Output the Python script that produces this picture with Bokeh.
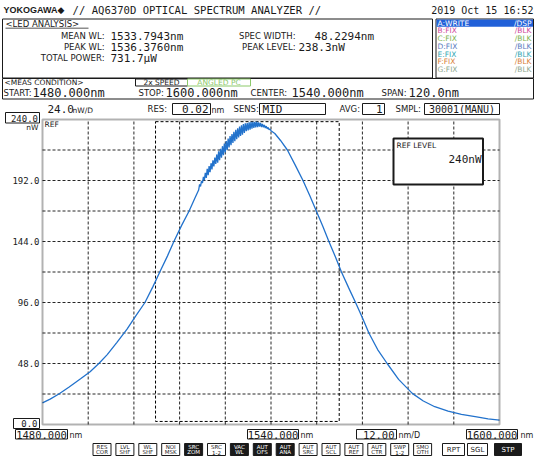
from bokeh.plotting import figure
from bokeh.models import Label, BoxAnnotation, Range1d
from bokeh.embed import file_html
from bokeh.resources import INLINE

wavelength_nm = [
    1480.0, 1482.0, 1484.3, 1487.0, 1490.0, 1492.5, 1494.8, 1497.0, 1499.5, 1502.2,
    1504.5, 1506.9, 1509.0, 1510.8, 1512.8, 1514.5, 1516.5, 1518.5, 1520.0,
    1521.00, 1521.25, 1521.50, 1521.75, 1522.00, 1522.25, 1522.50, 1522.75,
    1523.00, 1523.25, 1523.50, 1523.75, 1524.00, 1524.25, 1524.50, 1524.75,
    1525.00, 1525.25, 1525.50, 1525.75, 1526.00, 1526.25, 1526.50, 1526.75,
    1527.00, 1527.25, 1527.50, 1527.75, 1528.00, 1528.25, 1528.50, 1528.75,
    1529.00, 1529.25, 1529.50, 1529.75, 1530.00, 1530.25, 1530.50, 1530.75,
    1531.00, 1531.25, 1531.50, 1531.75, 1532.00, 1532.25, 1532.50, 1532.75,
    1533.00, 1533.25, 1533.50, 1533.75, 1534.00, 1534.25, 1534.50, 1534.75,
    1535.00, 1535.25, 1535.50, 1535.75, 1536.00, 1536.25, 1536.50, 1536.75,
    1537.00, 1537.25, 1537.50, 1537.75, 1538.00, 1538.25, 1538.50, 1538.75,
    1539.00, 1539.25, 1539.50, 1539.75, 1540.00,
    1541.0, 1542.5, 1544.3, 1546.3, 1548.4, 1550.2, 1551.9, 1553.6, 1555.2, 1556.9,
    1558.5, 1560.4, 1562.2, 1564.0, 1565.7, 1568.0, 1570.5, 1573.5, 1577.1, 1580.0,
    1583.0, 1586.5, 1590.0, 1594.0, 1597.0, 1600.0,
]
power_nw = [
    17.0, 20.0, 24.0, 29.5, 36.0, 41.5, 48.0, 55.0, 64.5, 75.0,
    85.5, 96.0, 108.5, 120.0, 132.5, 144.0, 156.5, 168.0, 178.0,
    184.5, 188.9, 187.3, 191.6, 190.0, 194.9, 192.3, 198.1,
    194.0, 201.1, 196.2, 203.4, 198.5, 205.6, 200.7, 207.9,
    203.0, 210.0, 205.0, 212.5, 206.0, 215.0, 208.0, 217.0,
    210.0, 219.0, 212.0, 221.0, 214.0, 223.0, 216.0, 225.0,
    218.0, 226.9, 219.8, 228.6, 221.5, 230.3, 223.0, 231.8,
    224.5, 233.1, 225.8, 234.4, 227.0, 235.5, 228.0, 236.5,
    229.5, 236.9, 230.8, 237.1, 231.5, 237.8, 232.0, 238.1,
    232.7, 238.2, 233.3, 238.2, 233.8, 238.3, 234.0, 237.8,
    234.4, 237.3, 234.1, 236.6, 233.8, 235.7, 233.3, 234.8,
    232.7, 233.7, 231.9, 232.5, 231.1,
    229.0, 223.5, 216.0, 204.5, 192.0, 180.0, 168.0, 156.0, 144.0, 132.0,
    120.0, 107.5, 96.0, 84.0, 72.0, 59.0, 48.0, 35.5, 24.5, 18.5,
    14.0, 10.5, 8.0, 6.0, 4.5, 3.5,
]
x_grid_nm = [1492, 1504, 1516, 1528, 1540, 1552, 1564, 1576, 1588]
y_grid_nw = [24, 48, 72, 96, 120, 144, 168, 192, 216]
y_tick_nw = [48, 96, 144, 192]
x_start_nm, x_center_nm, x_stop_nm = 1480.0, 1540.0, 1600.0
span_nm = 120.0
x_div_nm = 12.0
y_bottom_nw, y_ref_nw = 0.0, 240.0
y_div_nw = 24.0
mean_wl_nm = 1533.7943
peak_wl_nm = 1536.3760
spec_width_nm = 48.2294
peak_level_nw = 238.3
window_floor_nw = 2.4
total_power_uw = 731.7
trace_names = ["A:WRITE", "B:FIX", "C:FIX", "D:FIX", "E:FIX", "F:FIX", "G:FIX"]
trace_modes = ["/DSP", "/BLK", "/BLK", "/BLK", "/BLK", "/BLK", "/BLK"]
trace_colors = ["#ffffff", "#d04a9c", "#7db350", "#5b7cc0", "#35a8b4", "#d9823a", "#8fa890"]
button_top = ["RES", "LVL", "WL", "NOI", "SRC", "SRC", "VAC", "AUT", "AUT", "AUT", "AUT", "AUT", "AUT", "SWP", "SMO"]
button_bottom = ["COR", "SHF", "SHF", "MSK", "ZOM", "1-2", "WL", "OFS", "ANA", "SRC", "SCL", "REF", "CTR", "1-2", "OTH"]
button_on = [False, False, False, False, True, False, True, True, True, False, False, False, False, False, False]

# ---------------- geometry: the whole canvas is the frame ----------------
W, H = 534, 458
FX0, FX1, FY0, FY1 = 42, 499, 119, 424   # where the trace area sits on the screen (px)


def X(px):
    return x_start_nm + (px - FX0) * (x_stop_nm - x_start_nm) / (FX1 - FX0)


def Y(py):
    return y_ref_nw - (py - FY0) * (y_ref_nw - y_bottom_nw) / (FY1 - FY0)


p = figure(width=W, height=H,
           x_range=Range1d(X(0), X(W)), y_range=Range1d(Y(H), Y(0)),
           output_backend="svg", toolbar_location=None,
           min_border_left=0, min_border_right=0, min_border_top=0, min_border_bottom=0,
           background_fill_color="white", border_fill_color="white")
p.outline_line_color = None
p.axis.visible = False
p.grid.visible = False

SANS = "DejaVu Sans"
MONO = "DejaVu Sans Mono"
INK = "#1a1a1a"
SMALL = 8.5

# dashed graticule
n_x, n_y = len(x_grid_nm), len(y_grid_nw)
p.segment(x0=x_grid_nm, x1=x_grid_nm, y0=[y_bottom_nw] * n_x, y1=[y_ref_nw] * n_x,
          line_color="black", line_dash="3 2", line_width=1, line_alpha=0.85)
p.segment(x0=[x_start_nm] * n_y, x1=[x_stop_nm] * n_y, y0=y_grid_nw, y1=y_grid_nw,
          line_color="black", line_dash="3 2", line_width=1, line_alpha=0.85)

# analysis window (mean +/- spec width / 2)
p.quad(left=[mean_wl_nm - spec_width_nm / 2], right=[mean_wl_nm + spec_width_nm / 2],
       bottom=[window_floor_nw], top=[peak_level_nw],
       fill_alpha=0, line_color="black", line_dash="3 2", line_width=1)

# spectrum trace
p.line(wavelength_nm, power_nw, line_color="#2272cc", line_width=1.3)

# trace-area border
p.add_layout(BoxAnnotation(left=x_start_nm, right=x_stop_nm, bottom=y_bottom_nw, top=y_ref_nw,
                           line_color="black", line_width=2, fill_alpha=0.0))


def txt(px, py, s, size=SMALL, font=SANS, color=INK, align="left", style="normal"):
    p.add_layout(Label(x=X(px), y=Y(py), text=s, text_font=font,
                       text_font_size=f"{size}px", text_color=color,
                       text_align=align, text_baseline="middle",
                       text_font_style=style))


def rect(x0, y0, x1, y1, line=INK, fill=None, lw=1.0):
    p.add_layout(BoxAnnotation(left=X(x0), right=X(x1), top=Y(y0), bottom=Y(y1),
                               line_color=line, line_width=lw, line_alpha=1.0,
                               fill_color=fill if fill else "white",
                               fill_alpha=1.0 if fill else 0.0))


# level tick labels
for v in y_tick_nw:
    p.add_layout(Label(x=X(39), y=v, text=f"{v:.1f}", text_font=MONO, text_font_size="9px",
                       text_color=INK, text_align="right", text_baseline="middle"))

# title row
txt(3, 9.5, "YOKOGAWA", 9, "Liberation Sans", style="bold")
txt(57, 9.5, "\u25c6", 9)
txt(72, 9.5, "// AQ6370D OPTICAL SPECTRUM ANALYZER //", 10.6, MONO)
txt(533, 9.5, "2019 Oct 15 16:52", 10, MONO, align="right")

# LED analysis block
rect(2, 18.5, 432, 77.5)
txt(5, 23, "<LED ANALYSIS>")
rect(5, 27.3, 88, 28.1, line=None, fill=INK)
txt(104, 35.5, "MEAN WL:", align="right")
txt(110, 35.5, f"{mean_wl_nm:.4f}nm", 11, MONO)
txt(104, 46.5, "PEAK WL:", align="right")
txt(110, 46.5, f"{peak_wl_nm:.4f}nm", 11, MONO)
txt(104, 57.5, "TOTAL POWER:", align="right")
txt(110, 57.5, f"{total_power_uw:.1f}\u03bcW", 11, MONO)
txt(295, 35.5, "SPEC WIDTH:", align="right")
txt(314, 35.5, f"{spec_width_nm:.4f}nm", 11, MONO)
txt(295, 46.5, "PEAK LEVEL:", align="right")
txt(298, 46.5, f"{peak_level_nw:.1f}nW", 11, MONO)

# trace list
rect(435.5, 18.5, 533, 77.5)
rect(436, 19, 532.5, 26.2, line=None, fill="#2160d8")
for i, (nm, md, col) in enumerate(zip(trace_names, trace_modes, trace_colors)):
    yc = 22.6 + 7.75 * i
    txt(437, yc, nm, 7.5, color=col)
    txt(531, yc, md, 7.5, color=col, align="right")

# measurement condition block
rect(2, 78, 533, 98.5)
txt(4, 81.8, "<MEAS CONDITION>", 7.5)
rect(135, 78.5, 187, 85.5)
txt(161, 82, "2x SPEED", 7.5, align="center")
rect(187, 78.5, 250, 85.5, line="#8cc96b")
txt(218.5, 82, "ANGLED PC", 7.5, color="#8cc96b", align="center")
txt(3, 92, "START:")
txt(32, 92, f"{x_start_nm:.3f}nm", 12, MONO)
txt(138, 92, "STOP:")
txt(165, 92, f"{x_stop_nm:.3f}nm", 12, MONO)
txt(250, 92, "CENTER:")
txt(291, 92, f"{x_center_nm:.3f}nm", 12, MONO)
txt(381, 92, "SPAN:")
txt(408, 92, f"{span_nm:.1f}nm", 12, MONO)

# settings row
txt(47, 108.5, f"{y_div_nw:.1f}", 11, MONO)
txt(72, 109.5, "nW/D", 7.5)
txt(147, 108.5, "RES:")
rect(172, 103, 210, 114)
txt(208, 108.5, "0.02", 11, MONO, align="right")
txt(211, 109.5, "nm", 8)
txt(233, 108.5, "SENS:")
rect(259, 103, 325, 114)
txt(262, 108.5, "MID", 11, MONO)
txt(339, 108.5, "AVG:")
rect(362, 103, 384, 114)
txt(382, 108.5, "1", 11, MONO, align="right")
txt(395, 108.5, "SMPL:")
rect(424, 103, 499, 114)
txt(461.5, 108.5, "30001(MANU)", 10, MONO, align="center")

# level labels at the frame
rect(5, 112, 39, 122.5)
txt(37.5, 117.5, f"{y_ref_nw:.1f}", 9, MONO, align="right")
txt(38, 126.5, "nW", 7.5, align="right")
txt(44, 123.5, "REF", 7.5)
rect(13, 418, 39, 428)
txt(37, 423, f"{y_bottom_nw:.1f}", 9, MONO, align="right")

# REF LEVEL box inside the frame
rect(393, 138, 482.5, 184, fill="white", lw=2)
txt(396, 145, "REF LEVEL", 7.5)
txt(481, 158.5, f"{y_ref_nw:.0f}nW", 11, MONO, align="right")

# wavelength boxes
rect(15, 429, 67, 438.5)
txt(41, 434, f"{x_start_nm:.3f}", 10.5, MONO, align="center")
txt(69, 434.5, "nm", 8)
rect(247, 429, 298, 438.5)
txt(272.5, 434, f"{x_center_nm:.3f}", 10.5, MONO, align="center")
txt(300, 434.5, "nm", 8)
rect(356, 429, 396, 438.5)
txt(394, 434, f"{x_div_nm:.2f}", 10.5, MONO, align="right")
txt(398, 434.5, "nm/D", 8)
rect(466, 429, 517, 438.5)
txt(491.5, 434, f"{x_stop_nm:.3f}", 10.5, MONO, align="center")
txt(520, 434.5, "nm", 8)

# soft-key buttons
for i, (t, b, on) in enumerate(zip(button_top, button_bottom, button_on)):
    cx = 101.5 + 22.9 * i
    rect(cx - 9, 443, cx + 9, 455, fill=INK if on else "white")
    col = "white" if on else INK
    txt(cx, 446.2, t, 5.5, color=col, align="center")
    txt(cx, 451.8, b, 5.5, color=col, align="center")
for cx, w, t, on in [(453, 22, "RPT", False), (477, 20, "SGL", False), (507.5, 27, "STP", True)]:
    rect(cx - w / 2, 443, cx + w / 2, 455, fill=INK if on else "white")
    txt(cx, 449, t, 7, color="white" if on else INK, align="center")

open("out.html", "w").write(file_html(p, INLINE))
